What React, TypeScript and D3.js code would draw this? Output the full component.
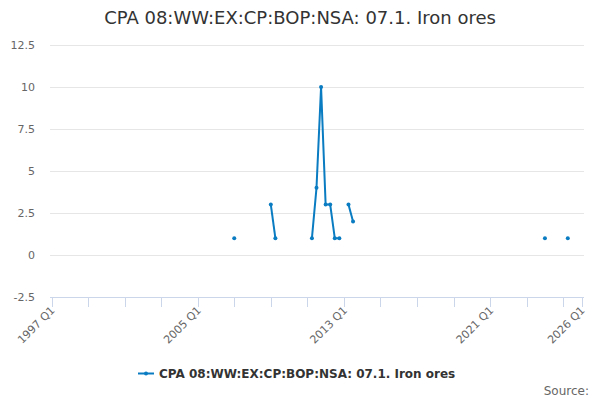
import { useEffect, useRef } from 'react';
import * as d3 from 'd3';

// quarters counted from 1997 Q1 (index 0)
const startYear = 1997;
const quarterIndex: number[] = [40, 48, 49, 57, 58, 59, 60, 61, 62, 63, 64, 65, 66, 108, 113];
const values: (number | null)[] = [1, 3, 1, 1, 4, 10, 3, 3, 1, 1, null, 3, 2, 1, 1];

const yTicks: number[] = [-2.5, 0, 2.5, 5, 7.5, 10, 12.5];
const xTickQuarters: number[] = [0, 8, 16, 24, 32, 40, 48, 56, 64, 72, 80, 88, 96, 104, 112, 116];
const xLabelQuarters: number[] = [0, 32, 64, 96, 116];

const title = 'CPA 08:WW:EX:CP:BOP:NSA: 07.1. Iron ores';
const seriesName = 'CPA 08:WW:EX:CP:BOP:NSA: 07.1. Iron ores';
const color = '#0a7cc1';

const quarterLabel = (q: number) => `${startYear + Math.floor(q / 4)} Q${(q % 4) + 1}`;

type Pt = { q: number; v: number | null };

const App = () => {
  const svgRef = useRef<SVGSVGElement>(null);

  useEffect(() => {
    if (!svgRef.current) return;
    const svg = d3.select(svgRef.current);
    svg.selectAll('*').remove();

    const font = '"DejaVu Sans", Verdana, sans-serif';
    const x = d3.scaleLinear().domain([0, 116]).range([51.5, 581.5]);
    const y = d3.scaleLinear().domain([-2.5, 12.5]).range([297, 45]);

    // title
    svg
      .append('text')
      .attr('x', 300)
      .attr('y', 24)
      .attr('text-anchor', 'middle')
      .attr('font-family', font)
      .attr('font-size', 18)
      .attr('fill', '#333')
      .text(title);

    // gridlines
    svg
      .selectAll('.grid')
      .data(yTicks.filter((t) => t !== -2.5))
      .enter()
      .append('line')
      .attr('x1', 50)
      .attr('x2', 584)
      .attr('y1', (d) => Math.round(y(d)) + 0.5)
      .attr('y2', (d) => Math.round(y(d)) + 0.5)
      .attr('stroke', '#e6e6e6')
      .attr('stroke-width', 1);

    // y labels
    svg
      .selectAll('.ylab')
      .data(yTicks)
      .enter()
      .append('text')
      .attr('x', 35)
      .attr('y', (d) => y(d))
      .attr('dy', '0.35em')
      .attr('text-anchor', 'end')
      .attr('font-family', font)
      .attr('font-size', 11)
      .attr('fill', '#666')
      .text((d) => String(d));

    // x axis line + ticks
    svg
      .append('line')
      .attr('x1', 50)
      .attr('x2', 584)
      .attr('y1', 297.5)
      .attr('y2', 297.5)
      .attr('stroke', '#ccd6eb');

    svg
      .selectAll('.xtick')
      .data(xTickQuarters)
      .enter()
      .append('line')
      .attr('x1', (d) => Math.round(x(d)) + 0.5)
      .attr('x2', (d) => Math.round(x(d)) + 0.5)
      .attr('y1', 297)
      .attr('y2', 307)
      .attr('stroke', '#ccd6eb');

    svg
      .selectAll('.xlab')
      .data(xLabelQuarters)
      .enter()
      .append('text')
      .attr('transform', (d) => `translate(${x(d) + 4},${311}) rotate(-45)`)
      .attr('text-anchor', 'end')
      .attr('font-family', font)
      .attr('font-size', 11)
      .attr('fill', '#666')
      .text((d) => quarterLabel(d));

    // series: split into runs of consecutive quarters
    const pts: Pt[] = quarterIndex.map((q, i) => ({ q, v: values[i] }));
    const runs: Pt[][] = [];
    let cur: Pt[] = [];
    pts.forEach((p, i) => {
      if (p.v === null || (i > 0 && pts[i - 1].q !== p.q - 1)) {
        if (cur.length) runs.push(cur);
        cur = [];
      }
      if (p.v !== null) cur.push(p);
    });
    if (cur.length) runs.push(cur);

    const line = d3
      .line<Pt>()
      .x((d) => x(d.q))
      .y((d) => y(d.v as number));

    svg
      .selectAll('.run')
      .data(runs)
      .enter()
      .append('path')
      .attr('d', (d) => line(d))
      .attr('fill', 'none')
      .attr('stroke', color)
      .attr('stroke-width', 2)
      .attr('stroke-linejoin', 'round');

    svg
      .selectAll('.pt')
      .data(pts.filter((p) => p.v !== null))
      .enter()
      .append('circle')
      .attr('cx', (d) => x(d.q))
      .attr('cy', (d) => y(d.v as number))
      .attr('r', 2)
      .attr('fill', color);

    // legend
    const lg = svg.append('g');
    lg.append('line')
      .attr('x1', 138)
      .attr('x2', 154)
      .attr('y1', 373.5)
      .attr('y2', 373.5)
      .attr('stroke', color)
      .attr('stroke-width', 2);
    lg.append('circle').attr('cx', 146).attr('cy', 373.5).attr('r', 2).attr('fill', color);
    lg.append('text')
      .attr('x', 159)
      .attr('y', 378)
      .attr('font-family', font)
      .attr('font-size', 12)
      .attr('font-weight', 'bold')
      .attr('fill', '#333')
      .text(seriesName);

    svg
      .append('text')
      .attr('x', 589)
      .attr('y', 395)
      .attr('text-anchor', 'end')
      .attr('font-family', font)
      .attr('font-size', 12)
      .attr('fill', '#666')
      .text('Source:');
  }, []);

  return (
    <svg
      ref={svgRef}
      width={600}
      height={400}
      style={{ position: 'absolute', left: 0, top: 0, background: '#fff' }}
    ></svg>
  );
};

export default App;
